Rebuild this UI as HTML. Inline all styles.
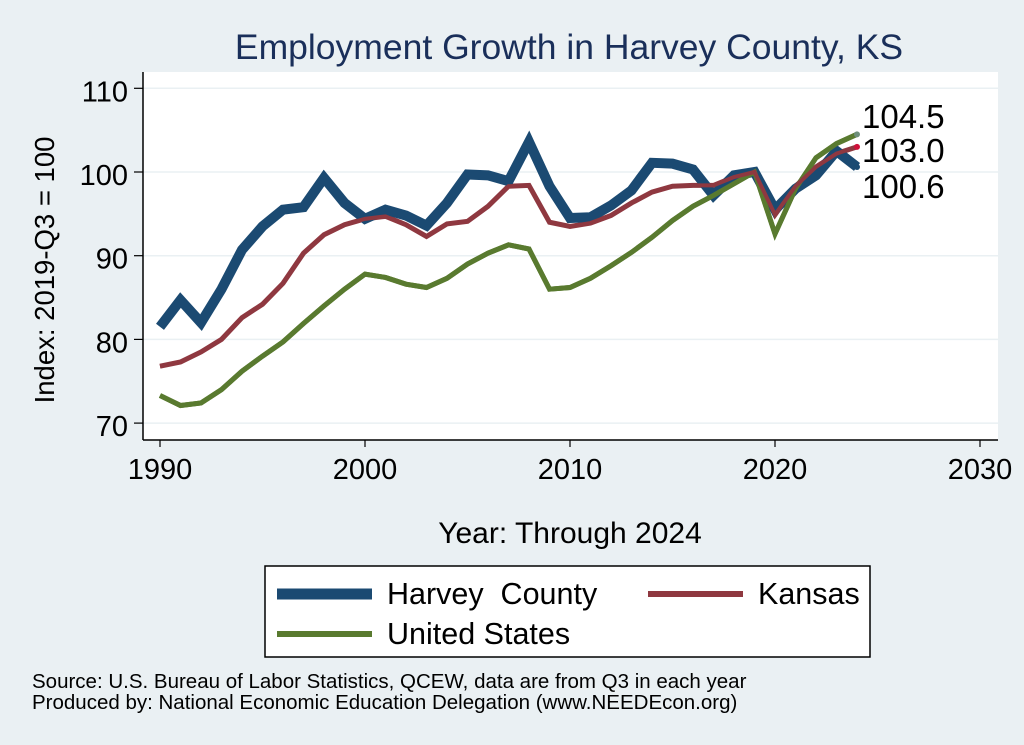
<!DOCTYPE html>
<html><head><meta charset="utf-8"><style>
body{margin:0;background:#eaf0f3;}
svg{display:block;font-family:"Liberation Sans",sans-serif;}
</style></head><body>
<svg width="1024" height="745" id="chart">
<rect x="0" y="0" width="1024" height="745" fill="#eaf0f3"/>
<rect x="143" y="72" width="855" height="368" fill="#fff"/>
<text x="569" y="59" font-size="35.5" fill="#1a2f5a" text-anchor="middle">Employment Growth in Harvey County, KS</text>
<g id="grid"></g><g id="axes"></g><g id="series"></g>
<text transform="translate(54,270) rotate(-90)" font-size="27.5" text-anchor="middle">Index: 2019-Q3 = 100</text>
<text x="570" y="543" font-size="30" text-anchor="middle">Year: Through 2024</text>
<g>
<rect x="265" y="566" width="605" height="91" fill="#fff" stroke="#000" stroke-width="1.5"/>
<line x1="277" y1="594" x2="372" y2="594" stroke="#1b4a72" stroke-width="11"/>
<text x="387" y="604" font-size="30.5">Harvey&#160; County</text>
<line x1="648" y1="594" x2="743" y2="594" stroke="#8f3840" stroke-width="6"/>
<text x="758" y="604" font-size="30.5">Kansas</text>
<line x1="277" y1="634" x2="372" y2="634" stroke="#597a2f" stroke-width="6"/>
<text x="387" y="644" font-size="30.5">United States</text>
</g>
<text x="32" y="688" font-size="20.5">Source: U.S. Bureau of Labor Statistics, QCEW, data are from Q3 in each year</text>
<text x="32" y="709" font-size="20.5">Produced by: National Economic Education Delegation (www.NEEDEcon.org)</text>
</svg>
<script>
const years = [1990,1991,1992,1993,1994,1995,1996,1997,1998,1999,2000,2001,2002,2003,2004,2005,2006,2007,2008,2009,2010,2011,2012,2013,2014,2015,2016,2017,2018,2019,2020,2021,2022,2023,2024];
const harvey = [81.5,84.7,82,86,90.7,93.5,95.5,95.8,99.3,96.3,94.4,95.5,94.8,93.6,96.3,99.7,99.6,98.9,103.6,98.3,94.5,94.6,96,97.8,101.1,101,100.3,97.2,99.6,100,95.5,98,99.6,102.5,100.6];
const kansas = [76.8,77.3,78.5,80,82.6,84.2,86.7,90.3,92.5,93.7,94.4,94.7,93.7,92.3,93.8,94.1,95.9,98.3,98.4,94,93.5,93.9,94.8,96.3,97.6,98.3,98.4,98.4,99.4,100,94.9,98.3,100.6,102.2,103.0];
const us = [73.3,72.1,72.4,74,76.2,78,79.7,81.9,84,86,87.8,87.4,86.6,86.2,87.3,89,90.3,91.3,90.8,86,86.2,87.3,88.8,90.4,92.2,94.2,95.9,97.2,98.6,100,92.6,98,101.7,103.4,104.5];
const yTicks = [70,80,90,100,110];
const xTicks = [1990,2000,2010,2020,2030];
const NS="http://www.w3.org/2000/svg";
const xs=v=>160+(v-1990)*20.5;
const ys=v=>172-(v-100)*8.37;
function mk(tag,attrs,parent,text){const e=document.createElementNS(NS,tag);for(const k in attrs)e.setAttribute(k,attrs[k]);if(text!==undefined)e.textContent=text;document.getElementById(parent).appendChild(e);return e;}
yTicks.forEach(t=>{
 const g=mk('line',{x1:143,x2:998,y1:ys(t),y2:ys(t),stroke:'#eaf0f3','stroke-width':1.5},'grid');
 
 
 const tk=mk('line',{x1:134,x2:143,y1:ys(t),y2:ys(t),stroke:'#000','stroke-width':1.2},'axes');
 
 
 const l=mk('text',{x:128,y:ys(t)+13,'font-size':29,'text-anchor':'end'},'axes',t);
 
 
});
xTicks.forEach(t=>{
 const tk=mk('line',{x1:xs(t),x2:xs(t),y1:440,y2:447,stroke:'#000','stroke-width':1.2},'axes');
 
 
 const l=mk('text',{x:xs(t),y:479,'font-size':29,'text-anchor':'middle'},'axes',t);
 
 
});
const ya=mk('line',{x1:143,x2:143,y1:72,y2:440,stroke:'#000','stroke-width':1.5},'axes');


const xa=mk('line',{x1:143,x2:998,y1:440,y2:440,stroke:'#000','stroke-width':1.5},'axes');


function line(arr,color,w,name){
 const p=mk('polyline',{points:arr.map((v,i)=>xs(years[i])+','+ys(v)).join(' '),fill:'none',stroke:color,'stroke-width':w,'stroke-linejoin':'miter'},'series');
 
 
}
line(us,'#597a2f',5,'us-line');
line(kansas,'#8f3840',5,'kansas-line');
line(harvey,'#1b4a72',10,'harvey-line');
line(us,'#597a2f',5,'us-line-top');
line(kansas,'#8f3840',4,'kansas-line-top');
const n=years.length-1;
[[us,'#6e8f7a'],[kansas,'#d0103a'],[harvey,'#1b4a72']].forEach(([a,c])=>{
 const d=mk('circle',{cx:xs(years[n]),cy:ys(a[n]),r:3,fill:c},'series');
 
 
});
const lab=[[us[n],128],[kansas[n],162],[harvey[n],198]];
lab.forEach(([v,y])=>{
 const t=mk('text',{x:862,y:y,'font-size':33},'series',v.toFixed(1));
 
 
});
</script>
</body></html>
